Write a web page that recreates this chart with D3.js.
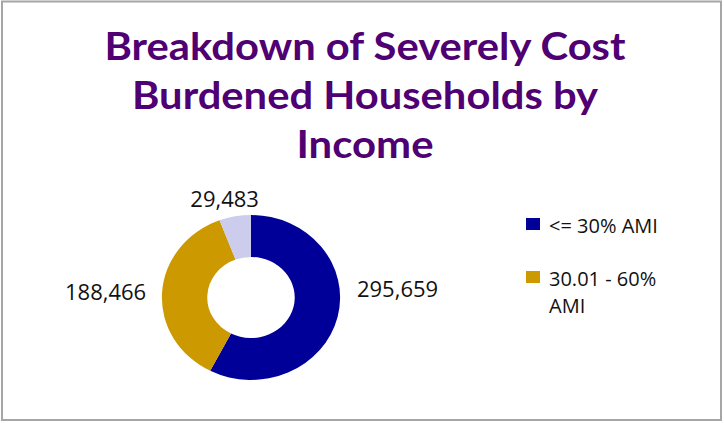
<script src="https://d3js.org/d3.v7.min.js"></script>
<style>
  body { margin: 0; background: #fff; }
</style>
<div id="my_dataviz"></div>
<script>

// data
var categories = ["<= 30% AMI", "30.01 - 60% AMI", "60.01 - 80% AMI"];
var households = [295659, 188466, 29483];
var colors = ["#000099", "#cc9900", "#ccccec"];
var titleLines = ["Breakdown of Severely Cost", "Burdened Households by", "Income"];
// legend shows only the first two entries, the second one wrapped
var legendLines = [["<= 30% AMI"], ["30.01 - 60%", "AMI"]];

var width = 724, height = 423;

var svg = d3.select("#my_dataviz")
  .append("svg")
    .attr("width", width)
    .attr("height", height);

// chart frame
svg.append("rect")
  .attr("x", 2).attr("y", 1.5)
  .attr("width", 719).attr("height", 418.5)
  .attr("fill", "#fff")
  .attr("stroke", "#a6a6a6")
  .attr("stroke-width", 2);

// title
var titleWidths = [521, 466, 137];
svg.selectAll("titleline")
  .data(titleLines)
  .enter()
  .append("text")
    .attr("x", 365)
    .attr("y", function(d, i) { return 60 + i * 49; })
    .attr("text-anchor", "middle")
    .attr("textLength", function(d, i) { return titleWidths[i]; })
    .attr("lengthAdjust", "spacingAndGlyphs")
    .style("font-family", "Lato, 'Open Sans', sans-serif")
    .style("font-weight", "bold")
    .style("font-size", "38px")
    .style("fill", "#4f0072")
    .text(function(d) { return d; });

// donut, a bit wider than tall like the original
var cx = 251, cy = 297.5, sx = 1.08;
var outerR = 82.5, innerR = 40.5;

var pie = d3.pie().sort(null).value(function(d) { return d; });
var arcs = pie(households);

var arc = d3.arc().innerRadius(innerR).outerRadius(outerR);

var donut = svg.append("g")
  .attr("transform", "translate(" + cx + "," + cy + ") scale(" + sx + ",1)");

donut.selectAll("slices")
  .data(arcs)
  .enter()
  .append("path")
    .attr("d", arc)
    .style("fill", function(d, i) { return colors[i]; });

// value labels, outside end
var labelR = 100;
var nudge = [[1, -32], [3, 0], [-7, 0]];
var fmt = d3.format(",");
svg.selectAll("vlabels")
  .data(arcs)
  .enter()
  .append("text")
    .attr("x", function(d, i) {
      var a = (d.startAngle + d.endAngle) / 2;
      return cx + Math.sin(a) * labelR * sx + nudge[i][0];
    })
    .attr("y", function(d, i) {
      var a = (d.startAngle + d.endAngle) / 2;
      return cy - Math.cos(a) * labelR + nudge[i][1];
    })
    .attr("dy", "0.36em")
    .attr("text-anchor", function(d) {
      var a = (d.startAngle + d.endAngle) / 2, s = Math.sin(a);
      return s > 0.5 ? "start" : (s < -0.5 ? "end" : "middle");
    })
    .style("font-family", "'Open Sans', sans-serif")
    .style("font-size", "22px")
    .style("fill", "#111")
    .text(function(d) { return fmt(d.data); });

// legend
var legend = svg.selectAll("legenditem")
  .data(legendLines)
  .enter()
  .append("g")
    .attr("transform", function(d, i) { return "translate(526," + (218 + i * 53) + ")"; });

legend.append("rect")
  .attr("width", 14)
  .attr("height", 12)
  .style("fill", function(d, i) { return colors[i]; });

legend.append("text")
  .attr("x", 23)
  .attr("y", 15)
  .style("font-family", "'Open Sans', sans-serif")
  .style("font-size", "20px")
  .style("fill", "#111")
  .selectAll("tspan")
  .data(function(d) { return d; })
  .enter()
  .append("tspan")
    .attr("x", 23)
    .attr("dy", function(d, i) { return i === 0 ? 0 : 27; })
    .text(function(d) { return d; });

</script>
